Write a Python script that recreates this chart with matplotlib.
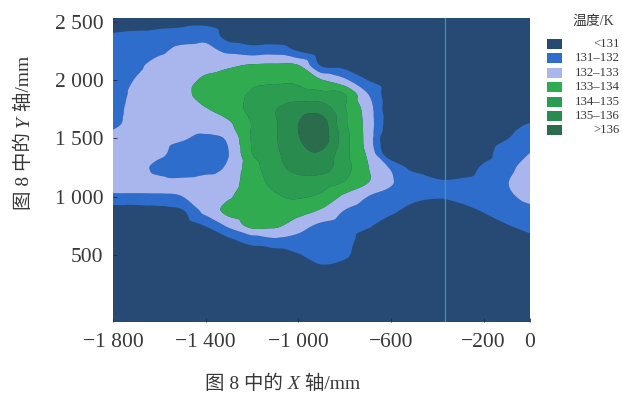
import numpy as np
import matplotlib
matplotlib.use("Agg")
import matplotlib.pyplot as plt
import matplotlib.tri as mtri
from matplotlib.patches import Rectangle

# Measurement grid (mm) and temperature field (K); rows run from Y = 0 up to Y = 2500
x_mm = list(range(-1800, 1, 100))
y_mm = list(range(0, 2501, 125))
temp_rows = [
    [130.0] * 19,                                                                                   # 0
    [130.0] * 19,                                                                                   # 125
    [130.0] * 8 + [130.2, 130.2, 130.2] + [130.0] * 8,                                              # 250
    [130.0] * 7 + [130.3, 130.6, 130.8, 130.6, 130.2] + [130.0] * 7,                                # 375
    [130.0, 130.0, 130.0, 130.0, 130.1, 130.2, 130.5, 130.5, 130.95, 131.4, 131.15, 130.4, 130.2,
     130.0, 130.0, 130.0, 130.0, 130.0, 130.0],                                                     # 500
    [130.2, 130.2, 130.2, 130.2, 130.4, 130.8, 131.4, 131.8, 131.7, 131.5, 131.3, 130.6, 130.3,
     130.1, 130.1, 130.1, 130.2, 130.4, 130.7],                                                     # 625
    [130.3, 130.3, 130.3, 130.5, 131.05, 132.2, 133.3, 133.2, 132.4, 131.8, 131.5, 131.1, 130.6,
     130.3, 130.2, 130.3, 130.6, 130.95, 131.3],                                                    # 750
    [130.5, 130.5, 130.6, 130.9, 132.3, 133.3, 133.6, 133.6, 133.4, 132.85, 131.95, 131.5, 131.15,
     130.7, 130.6, 130.7, 131.05, 131.4, 131.7],                                                    # 875
    [131.8, 131.8, 131.85, 132.0, 132.5, 132.9, 133.5, 133.9, 134.1, 133.8, 132.8, 132.0, 131.6,
     131.2, 131.05, 131.2, 131.4, 131.8, 132.3],                                                    # 1000
    [132.4, 132.4, 132.2, 132.2, 132.4, 132.6, 133.5, 134.3, 134.6, 134.5, 133.95, 133.05, 132.1,
     131.5, 131.1, 131.15, 131.4, 131.95, 132.6],                                                   # 1125
    [132.4, 132.3, 131.75, 131.4, 131.6, 132.2, 133.6, 134.6, 135.4, 135.4, 134.4, 133.05, 131.85,
     130.7, 130.4, 130.4, 131.15, 131.7, 132.5],                                                    # 1250
    [132.4, 132.4, 132.2, 131.6, 131.5, 132.0, 134.0, 134.8, 135.7, 135.9, 134.3, 132.8, 130.1,
     129.9, 129.9, 130.1, 130.6, 131.6, 132.0],                                                     # 1375
    [132.3, 132.4, 132.3, 132.1, 131.8, 132.2, 134.1, 134.9, 135.95, 136.5, 134.4, 132.6, 129.8,
     130.0, 130.0, 130.2, 130.4, 130.95, 131.6],                                                    # 1500
    [131.8, 132.3, 132.5, 132.5, 132.6, 132.85, 134.05, 134.9, 136.0, 136.4, 134.2, 132.6, 130.4,
     130.2, 130.1, 130.1, 130.2, 130.6, 131.05],                                                    # 1625
    [131.7, 132.3, 132.6, 132.75, 132.95, 133.5, 134.3, 134.95, 135.6, 135.6, 134.1, 132.5, 130.3,
     130.2, 130.1, 130.0, 130.0, 130.0, 130.0],                                                     # 1750
    [131.6, 132.2, 132.5, 132.75, 133.4, 133.7, 134.1, 134.3, 134.4, 134.3, 134.05, 132.05, 130.4,
     130.3, 130.1, 130.0, 130.0, 130.0, 130.0],                                                     # 1875
    [131.6, 132.05, 132.5, 132.7, 133.15, 133.4, 133.8, 133.85, 133.8, 133.05, 132.2, 130.98, 130.5,
     130.2, 130.0, 130.0, 130.0, 130.0, 130.0],                                                     # 2000
    [131.5, 131.8, 132.4, 132.6, 132.7, 132.85, 133.1, 133.15, 133.05, 130.9, 130.7, 130.5, 130.2,
     130.0, 130.0, 130.0, 130.0, 130.0, 130.0],                                                     # 2125
    [131.4, 131.5, 131.8, 132.3, 132.3, 131.8, 131.5, 131.6, 130.95, 130.4, 130.3, 130.2, 130.1,
     130.0, 130.0, 130.0, 130.0, 130.0, 130.0],                                                     # 2250
    [131.1, 131.2, 131.3, 131.5, 131.7, 130.6, 130.4, 130.4, 130.3, 130.1] + [130.0] * 9,          # 2375
    [130.6, 130.6, 130.7, 130.7, 130.7, 130.4, 130.3, 130.2, 130.1] + [130.0] * 10,                # 2500
]

levels = [120, 131, 132, 133, 134, 135, 136, 145]
level_labels = ["<131", "131\u2013132", "132\u2013133", "133\u2013134",
                "134\u2013135", "135\u2013136", ">136"]
band_colors = ["#264a74", "#2e6dcc", "#a9b6ee", "#31ab50", "#2c9c50", "#2a8b4e", "#2a6c4b"]

x_ticks = [-1800, -1400, -1000, -600, -200, 0]
x_tick_labels = ["\u22121 800", "\u22121 400", "\u22121 000", "\u2212600", "\u2212200", "0"]
y_ticks = [500, 1000, 1500, 2000, 2500]
y_tick_labels = ["500", "1 000", "1 500", "2 000", "2 500"]

SERIF = ["Liberation Serif", "Noto Sans CJK SC"]
TXT = "#383838"
W, H = 622, 393

fig = plt.figure(figsize=(W / 100, H / 100), dpi=100)
ax = fig.add_axes([113 / W, 1 - 322 / H, 417 / W, 304 / H])
ax.set_facecolor(band_colors[0])

X, Y = np.meshgrid(np.array(x_mm, float), np.array(y_mm, float))
T = np.array(temp_rows, float)
tri = mtri.Triangulation(X.ravel(), Y.ravel())
interp = mtri.CubicTriInterpolator(tri, T.ravel(), kind="geom")
refiner = mtri.UniformTriRefiner(tri)
tri_f, t_f = refiner.refine_field(T.ravel(), triinterpolator=interp, subdiv=3)
ax.tricontourf(tri_f, t_f, levels=levels, colors=band_colors, antialiased=True)

# thin scanner seam
ax.axvline(-367, color="#3aa3b8", lw=0.9, alpha=0.85)

ax.set_xlim(-1800, 0)
ax.set_ylim(-77, 2532)
ax.set_xticks(x_ticks)
ax.set_xticklabels(x_tick_labels)
ax.set_yticks(y_ticks)
ax.set_yticklabels(y_tick_labels)
ax.tick_params(direction="in", length=3, width=0.6, color="#1b2c45", labelcolor=TXT,
               labelsize=15.5)
ax.tick_params(axis="x", pad=8)
ax.tick_params(axis="y", pad=7)
for lab in ax.get_xticklabels() + ax.get_yticklabels():
    lab.set_fontfamily(SERIF)
for sp in ax.spines.values():
    sp.set_visible(False)

# Legend
fig.text(593 / W, 1 - 21 / H, "温度/K", family=SERIF, fontsize=10, color=TXT,
         ha="center", va="center")
for i, (lab, col) in enumerate(zip(level_labels, band_colors)):
    cy = 44 + i * 14.4
    fig.add_artist(Rectangle((547 / W, 1 - (cy + 5) / H), 15 / W, 10 / H,
                             transform=fig.transFigure, facecolor=col, edgecolor="none"))
    fig.text(620 / W, 1 - cy / H, lab, family=SERIF, fontsize=9.2, color=TXT,
             ha="right", va="center")


def chained_label(pieces, cx, cy, vertical=False, size=14):
    """Lay out text pieces of mixed style end to end, centred at (cx, cy) in pixels."""
    renderer = fig.canvas.get_renderer()
    arts = [fig.text(0, 0, s, family=SERIF, fontstyle=st, fontsize=size, color=TXT,
                     rotation=90 if vertical else 0, rotation_mode="anchor",
                     ha="left", va="baseline") for s, st in pieces]
    lens = []
    for t in arts:
        bb = t.get_window_extent(renderer)
        lens.append(bb.height if vertical else bb.width)
    pos = (cy if vertical else cx) - sum(lens) / 2
    for t, L in zip(arts, lens):
        t.set_position((cx / W, pos / H) if vertical else (pos / W, cy / H))
        pos += L


chained_label([("图 8 中的 ", "normal"), ("X", "italic"), (" 轴/mm", "normal")],
              282.5, H - 389)
chained_label([("图 8 中的 ", "normal"), ("Y", "italic"), (" 轴/mm", "normal")],
              29, H - 133, vertical=True)

fig.savefig("out.png", dpi=100)
